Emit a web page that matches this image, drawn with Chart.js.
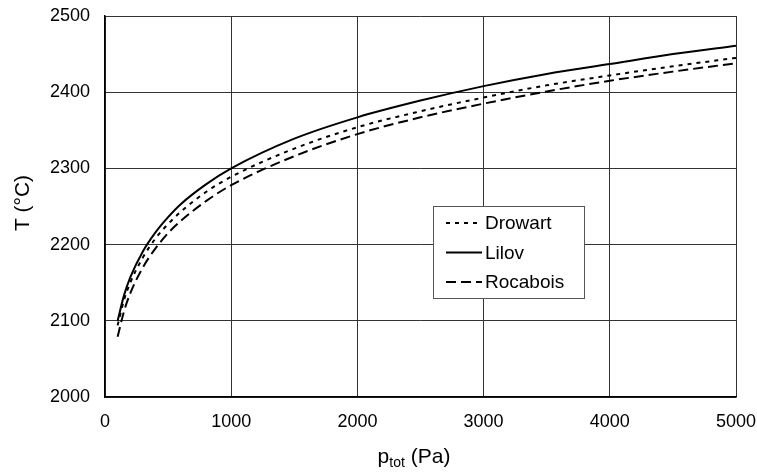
<!DOCTYPE html>
<html>
<head>
<meta charset="utf-8">
<script src="https://cdn.jsdelivr.net/npm/chart.js@4.4.1/dist/chart.umd.min.js"></script>
<style>
  html, body { margin: 0; padding: 0; background: #fff; }
  #wrap { width: 757px; height: 473px; position: relative; }
</style>
</head>
<body>
<div id="wrap"><canvas id="tChart"></canvas></div>
<script>
// values (p in Pa, T in °C)
const pressures = [100, 150, 200, 300, 400, 500, 600, 800, 1000, 1500, 2000, 2500, 3000, 3500, 4000, 4500, 5000];
const drowart  = [2094, 2127, 2150, 2183, 2208, 2227, 2243, 2269, 2289, 2326, 2354, 2375, 2393, 2409, 2422, 2434, 2445];
const lilov    = [2100, 2133, 2157, 2191, 2216, 2236, 2253, 2279, 2300, 2339, 2367, 2389, 2408, 2424, 2437, 2450, 2461];
const rocabois = [2079, 2112, 2136, 2170, 2195, 2215, 2231, 2257, 2278, 2316, 2345, 2367, 2385, 2401, 2415, 2427, 2438];
const seriesNames = ['Drowart', 'Lilov', 'Rocabois'];
const xRange = [0, 5000], xStep = 1000;
const yRange = [2000, 2500], yStep = 100;

const FONT = 'Liberation Sans, Arial, sans-serif';

function pts(ys) {
    return pressures.map((p, i) => ({ x: p, y: ys[i] }));
}

function series(label, ys, dash) {
    return {
        label: label,
        data: pts(ys),
        borderColor: '#000',
        borderWidth: 2,
        borderDash: dash,
        pointRadius: 0,
        fill: false,
        cubicInterpolationMode: 'monotone'
    };
}

// axis titles (x one has a subscript) and the boxed legend
const extras = {
    id: 'extras',
    afterDraw(chart) {
        const ctx = chart.ctx;
        ctx.save();
        ctx.fillStyle = '#000';

        // y title
        ctx.font = '21px ' + FONT;
        ctx.textAlign = 'center';
        ctx.textBaseline = 'middle';
        ctx.translate(23, 203);
        ctx.rotate(-Math.PI / 2);
        ctx.fillText('T (°C)', 0, 0);
        ctx.setTransform(1, 0, 0, 1, 0, 0);

        // x title: p_tot (Pa)
        const base = 463;
        ctx.textAlign = 'left';
        ctx.textBaseline = 'alphabetic';
        ctx.font = '21px ' + FONT;
        const w1 = ctx.measureText('p').width;
        const w3 = ctx.measureText(' (Pa)').width;
        ctx.font = '14px ' + FONT;
        const w2 = ctx.measureText('tot').width;
        let x = 414 - (w1 + w2 + w3) / 2;
        ctx.font = '21px ' + FONT;
        ctx.fillText('p', x, base);
        x += w1;
        ctx.font = '14px ' + FONT;
        ctx.fillText('tot', x, base + 4);
        x += w2;
        ctx.font = '21px ' + FONT;
        ctx.fillText(' (Pa)', x, base);

        // legend box
        const bx = 433, by = 206, bw = 151, bh = 92;
        ctx.fillStyle = '#fff';
        ctx.fillRect(bx, by, bw, bh);
        ctx.strokeStyle = '#555';
        ctx.lineWidth = 1;
        ctx.strokeRect(bx + 0.5, by + 0.5, bw, bh);
        ctx.font = '19px ' + FONT;
        ctx.textBaseline = 'middle';
        chart.data.datasets.forEach((ds, i) => {
            const y = by + 17 + i * 29.5;
            ctx.strokeStyle = ds.borderColor;
            ctx.lineWidth = ds.borderWidth;
            ctx.setLineDash(ds.borderDash || []);
            ctx.beginPath();
            ctx.moveTo(bx + 13, y);
            ctx.lineTo(bx + 49, y);
            ctx.stroke();
            ctx.setLineDash([]);
            ctx.fillStyle = '#000';
            ctx.fillText(ds.label, bx + 52, y + 1);
        });
        ctx.restore();
    }
};

new Chart(document.getElementById('tChart'), {
    type: 'line',
    data: {
        datasets: [
            series(seriesNames[0], drowart, [4, 5]),
            series(seriesNames[1], lilov, []),
            series(seriesNames[2], rocabois, [10, 5])
        ]
    },
    options: {
        responsive: true,
        maintainAspectRatio: false,
        animation: false,
        layout: { padding: { left: 0, right: 21, top: 16, bottom: 0 } },
        plugins: { legend: { display: false }, tooltip: { enabled: false } },
        scales: {
            x: {
                type: 'linear',
                min: xRange[0], max: xRange[1],
                ticks: { stepSize: xStep, color: '#000', font: { family: FONT, size: 18 }, padding: 14, maxRotation: 0,
                         callback: v => String(v) },
                grid: { color: '#333', lineWidth: 1, drawTicks: false },
                border: { color: '#000', width: 1.5 },
                afterFit(s) { s.height = 76; s.paddingLeft = 0; s.paddingRight = 0; }
            },
            y: {
                min: yRange[0], max: yRange[1],
                ticks: { stepSize: yStep, color: '#000', font: { family: FONT, size: 18 }, padding: 15,
                         callback: v => String(v) },
                grid: { color: '#333', lineWidth: 1, drawTicks: false },
                border: { color: '#000', width: 1.5 },
                afterFit(s) { s.width = 105; s.paddingTop = 0; s.paddingBottom = 0; }
            }
        }
    },
    plugins: [extras]
});
</script>
</body>
</html>
